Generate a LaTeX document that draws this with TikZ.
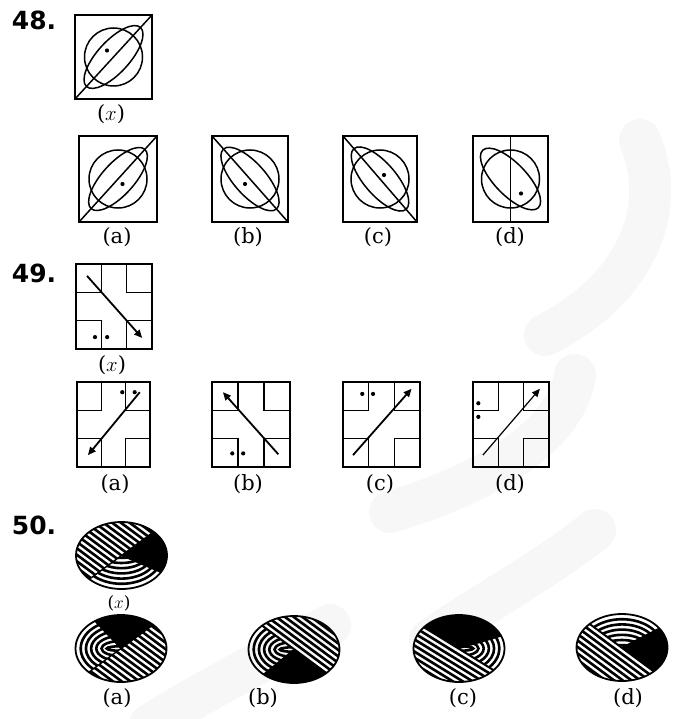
\documentclass[tikz,border=0pt]{standalone}
\usepackage{fontspec}
\setmainfont{DejaVu Serif}
\newfontfamily\numfont{DejaVu Sans}
\usetikzlibrary{arrows.meta,shapes.geometric,calc}
\tikzset{
  sqframe/.style={draw, line width=1.9pt, inner sep=0pt, outer sep=0pt, rectangle},
  figline/.style={line width=1.5pt},
  crossline/.style={line width=1.6pt},
  arrowline/.style={-{Triangle[length=8pt,width=7pt]}},
  stripe/.style={line width=2.6pt},
  divline/.style={line width=1.4pt},
  ovalborder/.style={line width=1.8pt},
  optlabel/.style={font=\fontsize{21}{21}\selectfont, inner sep=0pt},
  smalllabel/.style={font=\fontsize{17}{17}\selectfont, inner sep=0pt},
  numlabel/.style={font=\numfont\bfseries\fontsize{25}{25}\selectfont, inner sep=0pt},
  wm/.style={line width=42pt, gray!6, line cap=round},
}
% Q48 figure: name, center, w, h, line from anchor, line to anchor, ellipse angle, dot offset
\newcommand{\ringfig}[8]{%
  \node[sqframe, minimum width=#3pt, minimum height=#4pt] (#1) at (#2) {};
  \draw[figline] (#1.center) circle[radius=29pt];
  \begin{scope}[shift={(#1.center)}, rotate=#7]
    \draw[figline] (0,0) ellipse[x radius=40pt, y radius=16pt];
  \end{scope}
  \draw[figline] (#1.#5) -- (#1.#6);
  \fill ($(#1.center)+(#8)$) circle[radius=2.1pt];
}
% Q49 figure: name, center, w, h, arrow start, arrow end, dot1, dot2, arrow width
\newcommand{\crossfig}[9]{%
  \node[sqframe, minimum width=#3pt, minimum height=#4pt] (#1) at (#2) {};
  \begin{scope}[shift={(#1.south west)}, x=#3pt, y=#4pt]
    \draw[crossline] (1/3,1) -- (1/3,2/3) -- (0,2/3);
    \draw[crossline] (2/3,1) -- (2/3,2/3) -- (1,2/3);
    \draw[crossline] (0,1/3) -- (1/3,1/3) -- (1/3,0);
    \draw[crossline] (1,1/3) -- (2/3,1/3) -- (2/3,0);
    \draw[arrowline, line width=#9] (#5) -- (#6);
    \fill (#7) circle[radius=2.1pt];
    \fill (#8) circle[radius=2.1pt];
  \end{scope}
}
% Q50 figure: name, center, divider angle, half-line angle, black from, black to, arcs from, arcs to, stripe angle
\newcommand{\ovalfig}[9]{%
  \coordinate (#1) at (#2);
  \begin{scope}[shift={(#1)}]
    \begin{scope}
      \clip (0,0) -- (#3:45.5 and 33.5) arc[start angle=#3, end angle=#3+180, x radius=45.5, y radius=33.5] -- cycle;
      \begin{scope}[rotate=#9]
        \foreach \k in {-10,...,10} \draw[stripe] (-60,\k*5.2) -- (60,\k*5.2);
      \end{scope}
    \end{scope}
    \fill (0,0) -- (#5:45.5 and 33.5) arc[start angle=#5, end angle=#6, x radius=45.5, y radius=33.5] -- cycle;
    \begin{scope}
      \clip (0,0) -- (#7:45.5 and 33.5) arc[start angle=#7, end angle=#8, x radius=45.5, y radius=33.5] -- cycle;
      \foreach \k in {1,...,6} \draw[stripe] (0,0) ellipse[x radius=45.5-\k*5.2, y radius=33.5-\k*5.2];
    \end{scope}
    \draw[divline] (#3:45.5 and 33.5) -- (#3+180:45.5 and 33.5);
    \draw[divline] (0,0) -- (#4:45.5 and 33.5);
    \draw[ovalborder] (0,0) ellipse[x radius=45.5, y radius=33.5];
  \end{scope}
}
\begin{document}
\begin{tikzpicture}[x=1pt,y=1pt]
\useasboundingbox (0,0) rectangle (673,-719);
% watermark
\draw[wm] (640,-140) .. controls (672,-220) and (625,-295) .. (545,-335);
\draw[wm] (575,-375) .. controls (565,-440) and (480,-485) .. (390,-512);
\draw[wm] (595,-530) .. controls (545,-570) and (480,-605) .. (430,-640);
\draw[wm] (330,-625) .. controls (265,-660) and (205,-690) .. (150,-725);

% Question numbers
\node[numlabel] (n48) at (34,-20) {48.};
\node[numlabel] (n49) at (34,-273) {49.};
\node[numlabel] (n50) at (34,-525) {50.};

% Q48
\ringfig{q48x}{113.5,-57}{77}{84}{south west}{north east}{47.5}{-6.5,6.5}
\ringfig{q48a}{118,-179}{78}{86}{south west}{north east}{47.8}{4.5,-5}
\ringfig{q48b}{250,-179}{76}{86}{north west}{south east}{131.5}{-5,-5}
\ringfig{q48c}{380,-179}{74}{86}{north west}{south east}{130.7}{4,4}
\ringfig{q48d}{510.5,-179}{75}{86}{north}{south}{134}{10.5,-14.5}
\node[optlabel] (l48x) at (111,-114) {($x$)};
\node[optlabel] (l48a) at (117,-237) {(a)};
\node[optlabel] (l48b) at (248,-237) {(b)};
\node[optlabel] (l48c) at (378,-237) {(c)};
\node[optlabel] (l48d) at (510,-237) {(d)};

% Q49
\crossfig{q49x}{114,-306.5}{76}{85}{0.145,0.86}{0.87,0.13}{0.25,0.14}{0.41,0.14}{1.8pt}
\crossfig{q49a}{113.5,-424.5}{73}{85}{0.86,0.88}{0.15,0.14}{0.62,0.88}{0.79,0.88}{1.8pt}
\crossfig{q49b}{251,-424.5}{78}{85}{0.85,0.15}{0.14,0.88}{0.26,0.16}{0.40,0.16}{1.8pt}
\crossfig{q49c}{381.5,-424.5}{77}{85}{0.13,0.14}{0.89,0.92}{0.25,0.86}{0.39,0.86}{1.8pt}
\crossfig{q49d}{511,-424.5}{76}{85}{0.13,0.14}{0.88,0.92}{0.07,0.75}{0.07,0.59}{1.2pt}
\node[optlabel] (l49x) at (112,-365) {($x$)};
\node[optlabel] (l49a) at (115,-484) {(a)};
\node[optlabel] (l49b) at (248,-484) {(b)};
\node[optlabel] (l49c) at (380,-484) {(c)};
\node[optlabel] (l49d) at (510,-484) {(d)};

% Q50
\ovalfig{q50x}{121.5,-555.5}{45}{330}{330}{405}{225}{330}{-36.5}
\ovalfig{q50a}{121,-648.5}{225}{125}{45}{125}{125}{225}{-36.5}
\ovalfig{q50b}{294,-649.5}{315}{228}{228}{315}{135}{228}{-36.5}
\ovalfig{q50c}{459,-648.5}{140}{22}{22}{140}{-40}{22}{-31.6}
\ovalfig{q50d}{622,-647.5}{135}{35}{-45}{35}{35}{135}{-36.5}
\node[smalllabel] (l50x) at (119,-603) {($x$)};
\node[optlabel] (l50a) at (117,-698) {(a)};
\node[optlabel] (l50b) at (263,-698) {(b)};
\node[optlabel] (l50c) at (463,-698) {(c)};
\node[optlabel] (l50d) at (628,-698) {(d)};
\end{tikzpicture}
\end{document}
